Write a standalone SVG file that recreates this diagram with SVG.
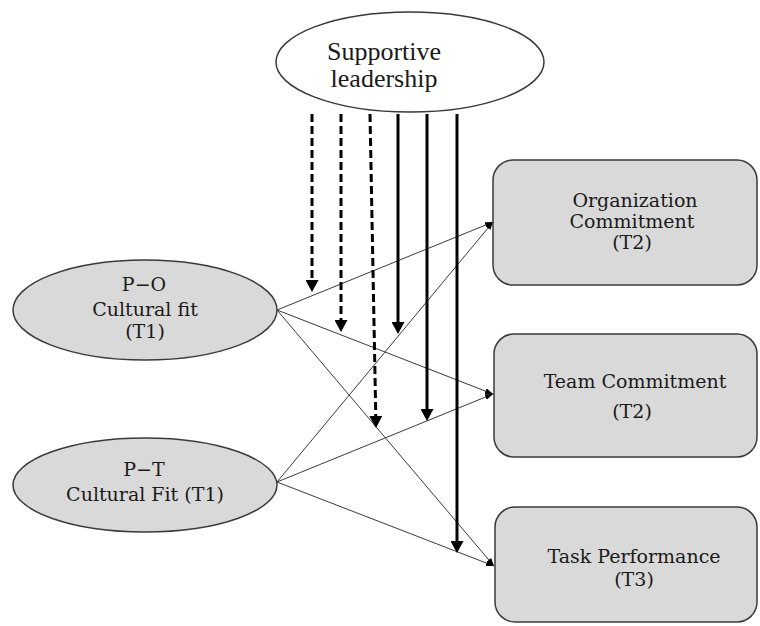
<svg xmlns="http://www.w3.org/2000/svg" width="760" height="626" viewBox="0 0 760 626">
<style>
.bg{fill:#ffffff}
.node{stroke:#3a3a3a;stroke-width:1.5}
.gray{fill:#d9d9d9}
.white{fill:#ffffff}
.t{font-family:"DejaVu Serif","Liberation Serif",serif;font-size:19px;fill:#1a1a1a;text-anchor:middle}
.tl{font-family:"Liberation Serif","Times New Roman",serif;font-size:26px;fill:#1a1a1a;text-anchor:middle}
.thin{stroke:#3a3a3a;stroke-width:1;fill:none}
.thick{stroke:#000;stroke-width:3;fill:none}
.dash{stroke-dasharray:8 4}
</style>
<defs>
<marker id="ah" viewBox="0 0 8 6" refX="8" refY="3" markerWidth="8" markerHeight="6" markerUnits="userSpaceOnUse" orient="auto">
<path d="M0,0 L8,3 L0,6 z" fill="#000"/>
</marker>
<marker id="big" viewBox="0 0 12 13" refX="1" refY="6.5" markerWidth="12" markerHeight="13" markerUnits="userSpaceOnUse" orient="auto">
<path d="M0,0 L12,6.5 L0,13 z" fill="#000"/>
</marker>
</defs>
<rect class="bg" x="0" y="0" width="760" height="626"/>

<g id="connectors">
<line class="thin" x1="277" y1="310" x2="493" y2="222" marker-end="url(#ah)"/>
<line class="thin" x1="277" y1="310" x2="493" y2="394" marker-end="url(#ah)"/>
<line class="thin" x1="277" y1="310" x2="494" y2="566" marker-end="url(#ah)"/>
<line class="thin" x1="277" y1="482" x2="493" y2="222" marker-end="url(#ah)"/>
<line class="thin" x1="277" y1="482" x2="493" y2="394" marker-end="url(#ah)"/>
<line class="thin" x1="277" y1="482" x2="494" y2="566" marker-end="url(#ah)"/>
<line class="thick dash" x1="312" y1="114" x2="312" y2="281" marker-end="url(#big)"/>
<line class="thick dash" x1="341" y1="114" x2="341" y2="321" marker-end="url(#big)"/>
<line class="thick dash" x1="370" y1="114" x2="375.8" y2="417" marker-end="url(#big)"/>
<line class="thick" x1="398" y1="114" x2="398" y2="323" marker-end="url(#big)"/>
<line class="thick" x1="427" y1="114" x2="427" y2="410" marker-end="url(#big)"/>
<line class="thick" x1="457" y1="114" x2="457" y2="542" marker-end="url(#big)"/>
</g>

<g id="supportive-leadership">
<ellipse class="node white" cx="410" cy="62" rx="134" ry="50"/>
<text class="tl" x="384" y="60">Supportive</text>
<text class="tl" x="384" y="87">leadership</text>
</g>

<g id="po-fit">
<ellipse class="node gray" cx="145" cy="310" rx="132" ry="50"/>
<text class="t" x="144" y="291">P−O</text>
<text class="t" x="145" y="316">Cultural fit</text>
<text class="t" x="145" y="338">(T1)</text>
</g>

<g id="pt-fit">
<ellipse class="node gray" cx="145" cy="485" rx="132" ry="47"/>
<text class="t" x="144" y="476">P−T</text>
<text class="t" x="145" y="501">Cultural Fit (T1)</text>
</g>

<g id="org-commitment">
<rect class="node gray" x="493" y="160" width="264" height="125" rx="20" ry="20"/>
<text class="t" x="635" y="207">Organization</text>
<text class="t" x="632" y="228">Commitment</text>
<text class="t" x="632" y="249">(T2)</text>
</g>

<g id="team-commitment">
<rect class="node gray" x="494" y="334" width="263" height="123" rx="20" ry="20"/>
<text class="t" x="635" y="388">Team Commitment</text>
<text class="t" x="632" y="418">(T2)</text>
</g>

<g id="task-performance">
<rect class="node gray" x="495" y="507" width="262" height="115" rx="20" ry="20"/>
<text class="t" x="634" y="563">Task Performance</text>
<text class="t" x="634" y="586">(T3)</text>
</g>
</svg>
